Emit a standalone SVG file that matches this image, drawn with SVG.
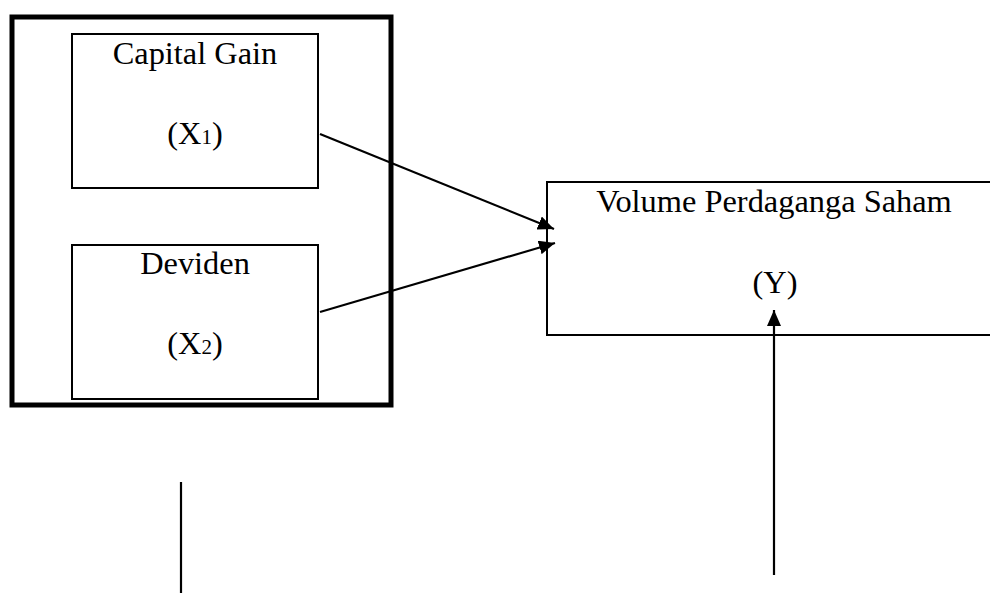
<svg xmlns="http://www.w3.org/2000/svg" width="990" height="594" viewBox="0 0 990 594">
<style>
.box{fill:none;stroke:#000;stroke-width:2}
.outer{fill:none;stroke:#000;stroke-width:5}
.t{font-family:"Liberation Serif","Times New Roman",serif;font-size:32.4px;fill:#000;text-anchor:middle}
.sub{font-size:21px}
.c{stroke:#000;stroke-width:2.2;fill:none}
</style>
<defs>
<marker id="ah" viewBox="0 0 16 14" refX="16" refY="7" markerWidth="16" markerHeight="14" markerUnits="userSpaceOnUse" orient="auto">
<path d="M0,0 L16,7 L0,14 z" fill="#000"/>
</marker>
</defs>
<rect width="990" height="594" fill="#fff"/>
<g id="group-x">
<rect class="outer" x="12" y="17" width="379" height="388"/>
</g>
<g id="capital-gain">
<rect class="box" x="72" y="34" width="246" height="154"/>
<text class="t" x="195" y="64">Capital Gain</text>
<text class="t" x="195" y="144">(X<tspan class="sub">1</tspan>)</text>
</g>
<g id="deviden">
<rect class="box" x="72" y="245" width="246" height="154"/>
<text class="t" x="195" y="274">Deviden</text>
<text class="t" x="195" y="354">(X<tspan class="sub">2</tspan>)</text>
</g>
<g id="volume">
<rect class="box" x="547" y="182" width="450" height="153"/>
<text class="t" x="774" y="212">Volume Perdaganga Saham</text>
<text class="t" x="775" y="293">(Y)</text>
</g>
<g id="connectors">
<line class="c" x1="320" y1="134" x2="554" y2="229" marker-end="url(#ah)"/>
<line class="c" x1="320" y1="312" x2="555" y2="243" marker-end="url(#ah)"/>
<line class="c" x1="774" y1="575" x2="774" y2="310" marker-end="url(#ah)"/>
<line class="c" x1="181" y1="482" x2="181" y2="593"/>
</g>
</svg>
